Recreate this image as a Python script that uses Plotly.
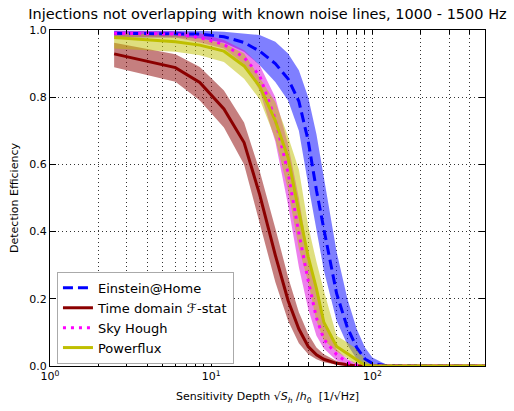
import plotly.graph_objects as go

depth = [2.5, 6, 8.5, 12, 16, 20, 25, 30, 35, 40, 45, 50, 60, 70, 80, 90, 100, 120, 150, 200, 300, 500]

eah = [0.99, 0.99, 0.988, 0.98, 0.963, 0.937, 0.90, 0.855, 0.788, 0.67, 0.523, 0.408, 0.216, 0.114, 0.055, 0.021, 0.008, 0.0015, 0, 0, 0, 0]
eah_hi = [0.998, 0.998, 0.998, 0.995, 0.99, 0.985, 0.965, 0.93, 0.88, 0.80, 0.69, 0.56, 0.34, 0.20, 0.11, 0.055, 0.025, 0.006, 0, 0, 0, 0]
eah_lo = [0.978, 0.978, 0.975, 0.962, 0.935, 0.895, 0.845, 0.79, 0.70, 0.54, 0.40, 0.285, 0.135, 0.063, 0.021, 0.006, 0.001, 0, 0, 0, 0, 0]

tdf = [0.929, 0.888, 0.844, 0.765, 0.665, 0.51, 0.33, 0.195, 0.11, 0.058, 0.033, 0.02, 0.008, 0.003, 0, 0, 0, 0, 0, 0, 0, 0]
tdf_hi = [0.962, 0.928, 0.89, 0.82, 0.725, 0.58, 0.41, 0.265, 0.16, 0.095, 0.055, 0.035, 0.015, 0.007, 0.002, 0, 0, 0, 0, 0, 0, 0]
tdf_lo = [0.889, 0.846, 0.79, 0.71, 0.60, 0.425, 0.25, 0.135, 0.068, 0.035, 0.02, 0.011, 0.004, 0.001, 0, 0, 0, 0, 0, 0, 0, 0]

skh = [0.99, 0.988, 0.977, 0.957, 0.918, 0.864, 0.734, 0.575, 0.395, 0.254, 0.143, 0.08, 0.034, 0.01, 0.003, 0, 0, 0, 0, 0, 0, 0]
skh_hi = [0.998, 0.996, 0.99, 0.97, 0.94, 0.895, 0.80, 0.66, 0.50, 0.33, 0.23, 0.13, 0.05, 0.02, 0.008, 0.002, 0, 0, 0, 0, 0, 0]
skh_lo = [0.98, 0.978, 0.963, 0.945, 0.898, 0.82, 0.668, 0.479, 0.295, 0.17, 0.09, 0.052, 0.016, 0.005, 0, 0, 0, 0, 0, 0, 0, 0]

pfx = [0.978, 0.965, 0.955, 0.937, 0.893, 0.832, 0.73, 0.62, 0.46, 0.325, 0.23, 0.13, 0.058, 0.037, 0.017, 0.002, 0, 0, 0, 0, 0, 0]
pfx_hi = [0.99, 0.985, 0.975, 0.96, 0.93, 0.86, 0.786, 0.683, 0.585, 0.417, 0.31, 0.225, 0.09, 0.07, 0.05, 0.02, 0.005, 0, 0, 0, 0, 0]
pfx_lo = [0.945, 0.935, 0.925, 0.905, 0.855, 0.794, 0.676, 0.524, 0.35, 0.25, 0.135, 0.077, 0.043, 0.023, 0.003, 0, 0, 0, 0, 0, 0, 0]

series = [
    ("Einstein@Home", eah, eah_hi, eah_lo, "#0000ff", "rgba(0,0,255,0.5)", "10px,5px"),
    ("Time domain \u2131-stat", tdf, tdf_hi, tdf_lo, "#8b0000", "rgba(139,0,0,0.5)", "solid"),
    ("Sky Hough", skh, skh_hi, skh_lo, "#ff00ff", "rgba(220,0,220,0.5)", "3px,5px"),
    ("Powerflux", pfx, pfx_hi, pfx_lo, "#bfbf00", "rgba(191,191,0,0.5)", "solid"),
]

fig = go.Figure()
for name, y, hi, lo, col, fcol, dash in series:
    fig.add_trace(go.Scatter(
        x=depth + depth[::-1], y=hi + lo[::-1], fill="toself", fillcolor=fcol,
        line=dict(width=0), mode="lines", showlegend=False, hoverinfo="skip"))
for name, y, hi, lo, col, fcol, dash in series:
    fig.add_trace(go.Scatter(
        x=depth, y=y, name=name, mode="lines",
        line=dict(color=col, width=3, dash=dash)))

tv = []
tt = []
for p, d in enumerate([1, 10, 100]):
    for k in range(1, 10):
        v = d * k
        if v <= 500:
            tv.append(v)
            tt.append("10<sup>%d</sup>" % p if k == 1 else "")

fig.update_layout(
    width=514, height=411,
    margin=dict(l=50, r=29, t=30, b=45),
    paper_bgcolor="white", plot_bgcolor="white",
    font=dict(family="DejaVu Sans", size=11, color="black"),
    title=dict(text="Injections not overlapping with known noise lines, 1000 - 1500 Hz",
               x=0.5, xref="paper", y=0.965, yref="container", xanchor="center", yanchor="middle",
               font=dict(size=14.5)),
    xaxis=dict(type="log", range=[0, 2.699], tickvals=tv, ticktext=tt, automargin=False,
               ticks="inside", ticklen=4, tickcolor="black", showline=True, linecolor="black",
               linewidth=1, mirror="allticks", showgrid=True, gridcolor="rgba(0,0,0,0.8)",
               griddash="1px,3px", gridwidth=1, zeroline=False,
               title=dict(text="Sensitivity Depth \u221a<i>S<sub>h</sub></i> /<i>h</i><sub>0</sub>  [1/\u221aHz]",
                          standoff=10, font=dict(size=11))),
    yaxis=dict(range=[0, 1], tickvals=[0, 0.2, 0.4, 0.6, 0.8, 1.0], automargin=False,
               ticktext=["0.0", "0.2", "0.4", "0.6", "0.8", "1.0"],
               ticks="inside", ticklen=6, tickcolor="black", showline=True, linecolor="black",
               linewidth=1, mirror="allticks", showgrid=True, gridcolor="rgba(0,0,0,0.8)",
               griddash="1px,3px", gridwidth=1, zeroline=False,
               title=dict(text="Detection Efficiency", standoff=8, font=dict(size=11))),
    legend=dict(x=0.016, y=0.28, xanchor="left", yanchor="top",
                bgcolor="white", bordercolor="#aaaaaa", borderwidth=1,
                font=dict(size=13), itemwidth=30, tracegroupgap=0),
)

fig.write_html("out.html")
